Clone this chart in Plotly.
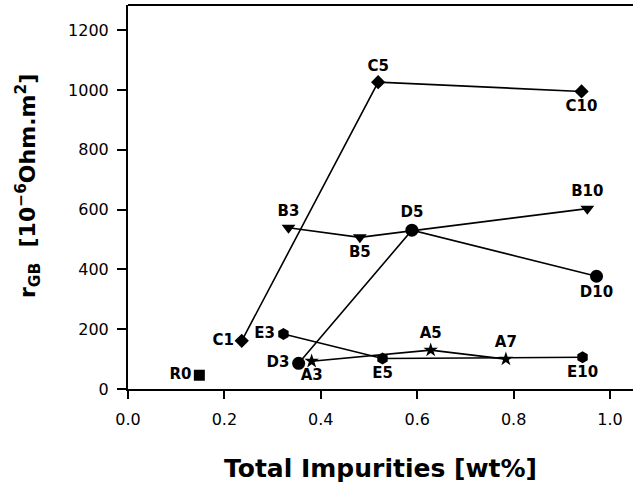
import plotly.graph_objects as go

# Data
r_x = [0.148]; r_y = [46]; r_lab = ["R0"]
c_x = [0.236, 0.519, 0.941]; c_y = [161, 1026, 995]; c_lab = ["C1", "C5", "C10"]
b_x = [0.333, 0.481, 0.953]; b_y = [539, 507, 603]; b_lab = ["B3", "B5", "B10"]
d_x = [0.354, 0.589, 0.972]; d_y = [86, 531, 377]; d_lab = ["D3", "D5", "D10"]
e_x = [0.3225, 0.528, 0.943]; e_y = [184, 102, 106]; e_lab = ["E3", "E5", "E10"]
a_x = [0.381, 0.628, 0.784]; a_y = [93, 130, 100]; a_lab = ["A3", "A5", "A7"]

x_ticks = [0.0, 0.2, 0.4, 0.6, 0.8, 1.0]
x_ticklabels = ["0.0", "0.2", "0.4", "0.6", "0.8", "1.0"]
y_ticks = [0, 200, 400, 600, 800, 1000, 1200]

FONT = "DejaVu Sans"
lab_font = dict(family=FONT, size=15, color="black", weight="bold")

series = [
    (r_x, r_y, r_lab, "square", 11, ["middle left"], "markers+text"),
    (c_x, c_y, c_lab, "diamond", 11, ["middle left", "top center", "bottom center"], "lines+markers+text"),
    (b_x, b_y, b_lab, "triangle-down", 12, ["top center", "bottom center", "top center"], "lines+markers+text"),
    (d_x, d_y, d_lab, "circle", 13, ["middle left", "top center", "bottom center"], "lines+markers+text"),
    (e_x, e_y, e_lab, "hexagon", 12, ["middle left", "bottom center", "bottom center"], "lines+markers+text"),
    (a_x, a_y, a_lab, "star", 11, ["bottom center", "top center", "top center"], "lines+markers+text"),
]

fig = go.Figure()
for xs, ys, labs, sym, sz, pos, mode in series:
    fig.add_trace(go.Scatter(
        x=xs, y=ys, text=labs, mode=mode,
        textposition=pos, textfont=lab_font,
        line=dict(color="black", width=1.6),
        marker=dict(symbol=sym, size=sz, color="black", line=dict(width=0)),
        showlegend=False, cliponaxis=False,
    ))

fig.update_layout(
    width=633, height=488,
    margin=dict(l=128, r=0, t=5, b=99),
    paper_bgcolor="white", plot_bgcolor="white",
    font=dict(family=FONT, color="black"),
    xaxis=dict(range=[0, 1.0477], tickvals=x_ticks, ticktext=x_ticklabels,
               showgrid=False, zeroline=False, showline=True, linewidth=2, linecolor="black",
               ticks="outside", ticklen=8, tickwidth=1.5, tickcolor="black",
               tickfont=dict(family=FONT, size=16, color="black"), ticklabelstandoff=7),
    yaxis=dict(range=[0, 1284], tickvals=y_ticks,
               showgrid=False, zeroline=False, showline=True, linewidth=2, linecolor="black",
               ticks="outside", ticklen=9, tickwidth=1.5, tickcolor="black",
               tickfont=dict(family=FONT, size=16, color="black"), ticklabelstandoff=5),
    shapes=[dict(type="line", xref="paper", yref="paper", x0=0, x1=1, y0=1, y1=1,
                 line=dict(color="black", width=2))],
    annotations=[
        dict(text="Total Impurities [wt%]", xref="paper", yref="paper",
             x=0.5, y=-0.206, xanchor="center", yanchor="middle", showarrow=False,
             font=dict(family=FONT, size=25, color="black", weight="bold")),
        dict(text="r<sub>GB</sub>  [10<sup>−6</sup>Ohm.m<sup>2</sup>]", xref="paper", yref="paper",
             x=(28 - 128) / 505, y=(389 - 186) / 384, xanchor="center", yanchor="middle",
             textangle=-90, showarrow=False,
             font=dict(family=FONT, size=22, color="black", weight="bold")),
    ],
)

fig.write_html("out.html", config={"displayModeBar": False},
               post_script="document.body.style.margin='0';document.body.style.overflow='hidden';")
